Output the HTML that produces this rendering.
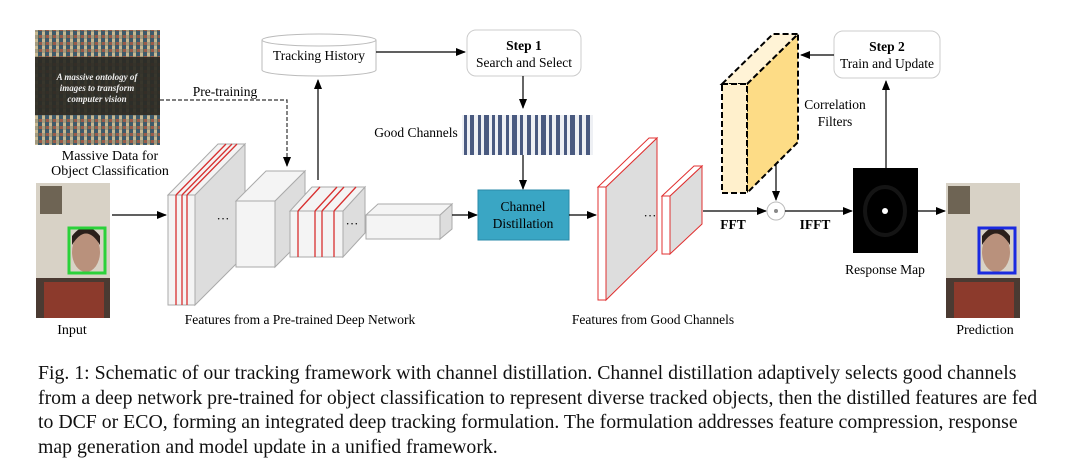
<!DOCTYPE html>
<html><head><meta charset="utf-8"><style>
body{margin:0;background:#fff;}
svg text{font-family:"Liberation Serif",serif;}
.cap{position:absolute;left:38px;top:361px;white-space:nowrap;font-family:"Liberation Serif",serif;font-size:19.8px;line-height:24.5px;color:#111;}
</style></head><body>
<div style="position:relative;width:1080px;height:468px;overflow:hidden">
<svg width="1080" height="468" viewBox="0 0 1080 468" style="position:absolute;left:0;top:0">
<defs>
<marker id="a" markerWidth="10" markerHeight="8" refX="9" refY="4" orient="auto" markerUnits="userSpaceOnUse"><path d="M0,0L10,4L0,8z" fill="#000"/></marker>
<pattern id="mos" width="7" height="7" patternUnits="userSpaceOnUse"><rect width="7" height="7" fill="#5d6b55"/><rect width="3" height="4" fill="#a39a80"/><rect x="3" y="3" width="4" height="4" fill="#3e5a6a"/><rect x="4" width="3" height="3" fill="#9a5b4a"/><rect x="0" y="4" width="3" height="3" fill="#c8b890"/></pattern>
</defs>
<rect x="35" y="30" width="125" height="115" fill="url(#mos)"/>
<rect x="35" y="57" width="125" height="58" fill="#2b2a24" opacity="0.92"/>
<text x="97" y="80" font-size="9" fill="#eee" text-anchor="middle" font-style="italic" font-weight="bold">A massive ontology of</text>
<text x="97" y="91" font-size="9" fill="#eee" text-anchor="middle" font-style="italic" font-weight="bold">images to transform</text>
<text x="97" y="102" font-size="9" fill="#eee" text-anchor="middle" font-style="italic" font-weight="bold">computer vision</text>
<text x="110" y="160" font-size="14" text-anchor="middle">Massive Data for</text>
<text x="110" y="175" font-size="14" text-anchor="middle">Object Classification</text>
<rect x="36" y="183" width="74" height="135" fill="#d8d2c6"/>
<rect x="40" y="186" width="22" height="28" fill="#6e6454"/>
<rect x="36" y="278" width="74" height="40" fill="#4a3a32"/>
<rect x="44" y="282" width="60" height="36" fill="#8c3a2c"/>
<ellipse cx="86" cy="252" rx="14" ry="20" fill="#b9917c"/>
<path d="M72,245 Q86,222 100,245 L100,236 Q86,218 72,236z" fill="#2a1f1a"/>
<rect x="69" y="228" width="36" height="45" fill="none" stroke="#2bd13a" stroke-width="3"/>
<text x="72" y="334" font-size="14" text-anchor="middle">Input</text>
<line x1="112" y1="215" x2="166" y2="215" stroke="#000" stroke-width="1.2" marker-end="url(#a)"/>
<polygon points="195,195 245,144 245,255 195,305" fill="#ddd" stroke="#aaa"/>
<polygon points="168,195 218,144 245,144 195,195" fill="#f4f4f4" stroke="#aaa"/>
<rect x="168" y="195" width="27" height="110" fill="#f4f4f4" stroke="#aaa"/>
<g stroke="#d83030" stroke-width="1.3"><line x1="176" y1="195" x2="176" y2="305"/><line x1="182" y1="195" x2="182" y2="305"/><line x1="187" y1="195" x2="187" y2="305"/>
<line x1="176" y1="195" x2="226" y2="144"/><line x1="182" y1="195" x2="232" y2="144"/><line x1="187" y1="195" x2="237" y2="144"/></g>
<text x="223" y="223" font-size="13" text-anchor="middle">···</text>
<polygon points="275,201 305,171 305,237 275,267" fill="#ddd" stroke="#aaa"/>
<polygon points="236,201 266,171 305,171 275,201" fill="#f4f4f4" stroke="#aaa"/>
<rect x="236" y="201" width="39" height="66" fill="#f4f4f4" stroke="#aaa"/>
<polygon points="343,211 365,187 365,233 343,257" fill="#ddd" stroke="#aaa"/>
<polygon points="290,211 312,187 365,187 343,211" fill="#f4f4f4" stroke="#aaa"/>
<rect x="290" y="211" width="53" height="46" fill="#f4f4f4" stroke="#aaa"/>
<g stroke="#d83030" stroke-width="1.3"><line x1="298" y1="211" x2="298" y2="257"/><line x1="315" y1="211" x2="315" y2="257"/><line x1="322" y1="211" x2="322" y2="257"/><line x1="334" y1="211" x2="334" y2="257"/>
<line x1="298" y1="211" x2="320" y2="187"/><line x1="315" y1="211" x2="337" y2="187"/><line x1="322" y1="211" x2="344" y2="187"/><line x1="334" y1="211" x2="356" y2="187"/></g>
<text x="352" y="228" font-size="13" text-anchor="middle">···</text>
<polygon points="440,215 452,204 452,229 440,239" fill="#ddd" stroke="#aaa"/>
<polygon points="366,215 378,204 452,204 440,215" fill="#f4f4f4" stroke="#aaa"/>
<rect x="366" y="215" width="74" height="24" fill="#f4f4f4" stroke="#aaa"/>
<line x1="452" y1="215" x2="477" y2="215" stroke="#000" stroke-width="1.2" marker-end="url(#a)"/>
<text x="300" y="324" font-size="13.5" text-anchor="middle">Features from a Pre-trained Deep Network</text>
<polyline points="160,100 287,100 287,166" fill="none" stroke="#333" stroke-width="1.2" stroke-dasharray="4,2" marker-end="url(#a)"/>
<text x="225" y="96" font-size="13.5" text-anchor="middle">Pre-training</text>
<line x1="318" y1="180" x2="318" y2="80" stroke="#000" stroke-width="1.2" marker-end="url(#a)"/>
<path d="M262,40 L262,70 A57,6 0 0 0 376,70 L376,40" fill="#fff" stroke="#bbb"/>
<ellipse cx="319" cy="40" rx="57" ry="6" fill="#fff" stroke="#bbb"/>
<text x="319" y="60" font-size="13.5" text-anchor="middle">Tracking History</text>
<line x1="376" y1="52" x2="465" y2="52" stroke="#000" stroke-width="1.2" marker-end="url(#a)"/>
<rect x="467" y="30" width="114" height="46" rx="9" fill="#fff" stroke="#ccc"/>
<text x="524" y="50" font-size="13.5" font-weight="bold" text-anchor="middle">Step 1</text>
<text x="524" y="67" font-size="13.5" text-anchor="middle">Search and Select</text>
<line x1="523" y1="76" x2="523" y2="108" stroke="#000" stroke-width="1.2" marker-end="url(#a)"/>
<text x="416" y="137" font-size="13.5" text-anchor="middle">Good Channels</text>
<rect x="462" y="115" width="131" height="40" fill="#eef0f4"/>
<g fill="#4a5a80">
<rect x="464" y="115" width="3" height="40"/><rect x="470" y="115" width="4" height="40"/><rect x="478" y="115" width="3" height="40"/><rect x="484" y="115" width="5" height="40"/><rect x="492" y="115" width="3" height="40"/><rect x="498" y="115" width="4" height="40"/><rect x="506" y="115" width="3" height="40"/><rect x="512" y="115" width="5" height="40"/><rect x="520" y="115" width="3" height="40"/><rect x="527" y="115" width="4" height="40"/><rect x="535" y="115" width="3" height="40"/><rect x="541" y="115" width="5" height="40"/><rect x="549" y="115" width="3" height="40"/><rect x="556" y="115" width="4" height="40"/><rect x="564" y="115" width="3" height="40"/><rect x="570" y="115" width="5" height="40"/><rect x="579" y="115" width="3" height="40"/><rect x="586" y="115" width="4" height="40"/></g>
<line x1="523" y1="155" x2="523" y2="189" stroke="#000" stroke-width="1.2" marker-end="url(#a)"/>
<rect x="478" y="190" width="91" height="50" fill="#3aa6c4" stroke="#2a8aa8"/>
<text x="523" y="211" font-size="13.5" text-anchor="middle">Channel</text>
<text x="523" y="228" font-size="13.5" text-anchor="middle">Distillation</text>
<line x1="569" y1="215" x2="596" y2="215" stroke="#000" stroke-width="1.2" marker-end="url(#a)"/>
<polygon points="606,187 657,138 657,250 606,300" fill="#ddd" stroke="#e03030"/>
<polygon points="598,187 649,138 657,138 606,187" fill="#fff" stroke="#e03030"/>
<rect x="598" y="187" width="8" height="113" fill="#fff" stroke="#e03030"/>
<text x="650" y="220" font-size="13" text-anchor="middle">···</text>
<polygon points="670,196 702,166 702,224 670,254" fill="#ddd" stroke="#e03030"/>
<polygon points="662,196 694,166 702,166 670,196" fill="#fff" stroke="#e03030"/>
<rect x="662" y="196" width="8" height="58" fill="#fff" stroke="#e03030"/>
<text x="653" y="324" font-size="13.5" text-anchor="middle">Features from Good Channels</text>
<line x1="703" y1="211" x2="766" y2="211" stroke="#000" stroke-width="1.2" marker-end="url(#a)"/>
<text x="733" y="229" font-size="13.5" font-weight="bold" text-anchor="middle">FFT</text>
<circle cx="776" cy="211" r="9" fill="#fff" stroke="#bbb"/>
<circle cx="776" cy="211" r="2" fill="#888"/>
<line x1="785" y1="211" x2="852" y2="211" stroke="#000" stroke-width="1.2" marker-end="url(#a)"/>
<text x="815" y="229" font-size="13.5" font-weight="bold" text-anchor="middle">IFFT</text>
<polygon points="747,84 798,34 798,142 747,193" fill="#fddc86" stroke="#000" stroke-width="2" stroke-dasharray="6,3"/>
<polygon points="722,84 773,34 798,34 747,84" fill="#fff3d6" stroke="#000" stroke-width="2" stroke-dasharray="6,3"/>
<rect x="722" y="84" width="25" height="109" fill="#fff0cc" stroke="#000" stroke-width="2" stroke-dasharray="6,3"/>
<line x1="776" y1="165" x2="776" y2="200" stroke="#000" stroke-width="1.2" marker-end="url(#a)"/>
<text x="835" y="109" font-size="13.5" text-anchor="middle">Correlation</text>
<text x="835" y="126" font-size="13.5" text-anchor="middle">Filters</text>
<rect x="834" y="31" width="106" height="47" rx="9" fill="#fff" stroke="#ccc"/>
<text x="887" y="51" font-size="13.5" font-weight="bold" text-anchor="middle">Step 2</text>
<text x="887" y="68" font-size="13.5" text-anchor="middle">Train and Update</text>
<line x1="834" y1="55" x2="801" y2="55" stroke="#000" stroke-width="1.2" marker-end="url(#a)"/>
<line x1="886" y1="168" x2="886" y2="81" stroke="#000" stroke-width="1.2" marker-end="url(#a)"/>
<rect x="853" y="168" width="65" height="85" fill="#000"/>
<ellipse cx="885" cy="211" rx="20" ry="24" fill="none" stroke="#141414" stroke-width="4"/>
<circle cx="885" cy="211" r="3" fill="#fff"/>
<text x="885" y="274" font-size="13.5" text-anchor="middle">Response Map</text>
<line x1="918" y1="211" x2="945" y2="211" stroke="#000" stroke-width="1.2" marker-end="url(#a)"/>
<rect x="946" y="183" width="74" height="135" fill="#d8d2c6"/>
<rect x="948" y="186" width="22" height="28" fill="#6e6454"/>
<rect x="946" y="278" width="74" height="40" fill="#4a3a32"/>
<rect x="954" y="282" width="60" height="36" fill="#8c3a2c"/>
<ellipse cx="996" cy="252" rx="14" ry="20" fill="#b9917c"/>
<path d="M982,245 Q996,222 1010,245 L1010,236 Q996,218 982,236z" fill="#2a1f1a"/>
<rect x="979" y="228" width="36" height="45" fill="none" stroke="#1a2ae0" stroke-width="3"/>
<text x="985" y="334" font-size="14" text-anchor="middle">Prediction</text>
</svg>
<div class="cap">Fig. 1: Schematic of our tracking framework with channel distillation. Channel distillation adaptively selects good channels<br>from a deep network pre-trained for object classification to represent diverse tracked objects, then the distilled features are fed<br>to DCF or ECO, forming an integrated deep tracking formulation. The formulation addresses feature compression, response<br>map generation and model update in a unified framework.</div>
</div>
</body></html>
